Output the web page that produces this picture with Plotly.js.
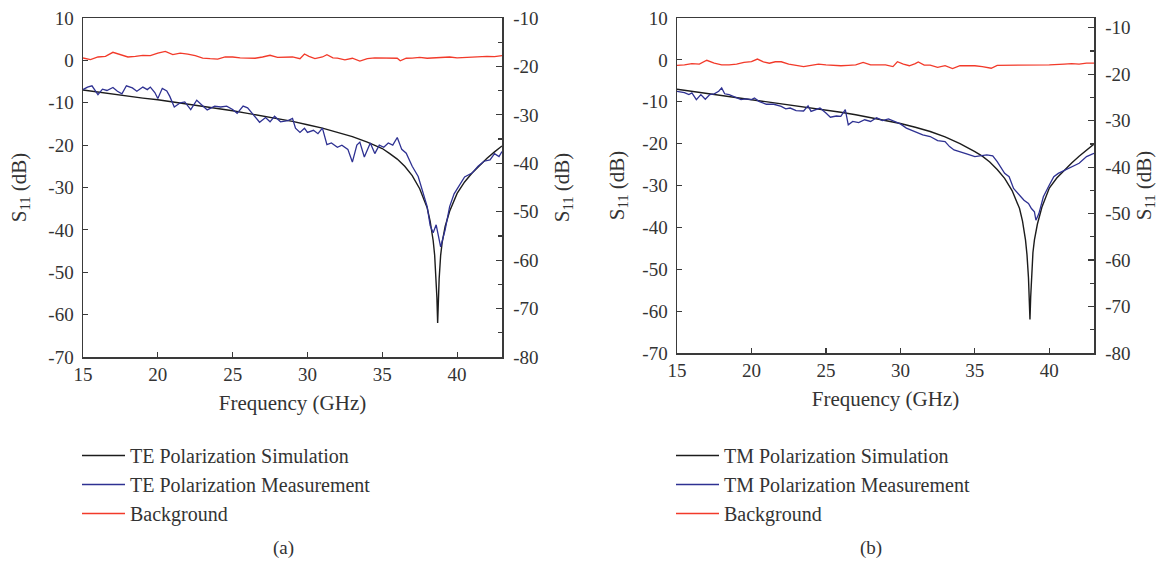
<!DOCTYPE html>
<html>
<head>
<meta charset="utf-8">
<script src="https://cdn.plot.ly/plotly-3.0.1.min.js"></script>
<style>html,body{margin:0;padding:0;background:#fff;}#chart{width:1165px;height:565px;}</style>
</head>
<body>
<div id="chart"></div>
<script>
// ---------- (a) TE ----------
const teSimFreq = [15,16,17,18,19,20,21,22,23,24,25,26,27,28,29,30,31,32,33,34,35,35.5,36,36.5,37,37.5,38,38.2,38.4,38.5,38.6,38.65,38.7,38.75,38.8,38.9,39,39.2,39.5,40,40.5,41,41.5,42,42.5,43];
const teSimS11  = [-7.0,-7.5,-8.0,-8.5,-8.9,-9.3,-9.8,-10.3,-10.8,-11.3,-11.9,-12.5,-13.1,-13.7,-14.4,-15.2,-16.0,-17.0,-18.0,-19.3,-20.8,-22.0,-23.3,-25.0,-27.2,-30.3,-34.8,-38.0,-42.5,-46.0,-51.5,-56.0,-62.0,-56.5,-51.5,-46.0,-43.0,-39.2,-35.6,-31.4,-28.7,-26.6,-24.8,-23.1,-21.6,-20.2];

const teMeasFreq = [15.0,15.3,15.6,15.8,16.0,16.3,16.6,17.0,17.3,17.6,17.9,18.3,18.6,19.0,19.3,19.5,19.8,20.0,20.3,20.6,20.8,21.1,21.5,21.8,22.2,22.6,23.0,23.3,23.8,24.2,24.6,25.0,25.3,25.7,26.0,26.4,26.8,27.2,27.5,27.8,28.2,28.7,29.0,29.2,29.5,29.8,30.0,30.4,30.7,31.0,31.3,31.6,32.0,32.3,32.7,33.0,33.3,33.5,33.8,34.2,34.5,34.8,35.1,35.4,35.7,36.0,36.3,36.6,37.0,37.4,37.7,38.0,38.2,38.4,38.6,38.9,39.2,39.5,39.8,40.2,40.5,41.0,41.4,41.8,42.2,42.5,42.8,43.0];
const teMeasS11  = [-6.9,-6.3,-6.0,-7.2,-8.1,-6.8,-7.1,-6.4,-7.3,-7.9,-6.0,-6.5,-7.3,-6.3,-6.9,-6.3,-7.6,-9.0,-6.6,-7.2,-8.5,-11.0,-10.0,-9.8,-11.6,-9.4,-10.8,-11.7,-10.8,-11.0,-10.8,-11.6,-12.5,-10.8,-11.2,-13.0,-14.6,-13.5,-14.5,-13.2,-14.5,-14.2,-13.7,-16.0,-17.0,-16.0,-17.0,-16.5,-17.3,-16.0,-19.9,-19.5,-20.5,-20.0,-21.0,-24.0,-20.0,-19.3,-22.8,-19.5,-22.0,-20.0,-20.5,-19.5,-20.0,-18.2,-21.0,-21.9,-25.0,-27.4,-31.0,-34.5,-39.0,-40.7,-38.8,-44.0,-40.0,-34.5,-31.5,-29.3,-27.5,-26.6,-25.0,-23.8,-23.5,-22.0,-22.7,-21.5];

const teBgFreq = [15.0,15.5,16.0,16.5,17.0,17.5,18.0,18.5,19.0,19.5,20.0,20.5,21.0,21.5,22.0,22.5,23.0,23.5,24.0,24.5,25.0,25.5,26.0,26.5,27.0,27.5,28.0,28.5,29.0,29.5,29.8,30.1,30.5,31.0,31.3,31.7,32.0,32.5,33.0,33.5,34.0,34.5,35.0,35.5,36.0,36.2,36.6,37.0,37.5,38.0,38.5,39.0,39.5,40.0,40.5,41.0,41.5,42.0,42.5,43.0];
const teBgS11  = [0.56,0.17,0.8,0.95,1.9,1.35,0.8,0.95,1.2,1.1,1.7,2.1,1.35,1.7,1.5,1.1,0.55,0.4,0.3,0.8,0.8,0.6,0.55,0.5,0.8,1.2,0.7,0.8,0.8,0.4,1.5,0.95,0.4,0.8,1.35,0.6,0.55,0.1,0.5,-0.15,0.4,0.6,0.55,0.6,0.5,-0.1,0.5,0.55,0.7,0.5,0.6,0.6,0.8,0.6,0.7,0.7,0.9,0.95,0.9,1.1];

// ---------- (b) TM ----------
const tmSimFreq = [15,16,17,18,19,20,21,22,23,24,25,26,27,28,29,30,31,32,33,34,35,35.5,36,36.5,37,37.5,38,38.2,38.4,38.5,38.6,38.65,38.7,38.75,38.8,38.9,39,39.2,39.5,40,40.5,41,41.5,42,42.5,43];
const tmSimS11  = [-7.0,-7.5,-8.0,-8.5,-9.0,-9.4,-9.9,-10.4,-10.9,-11.4,-11.9,-12.5,-13.1,-13.8,-14.5,-15.2,-16.1,-17.1,-18.4,-20.0,-21.9,-23.0,-24.4,-26.2,-28.3,-31.2,-35.5,-38.5,-43.0,-46.5,-52.0,-56.0,-62.0,-56.5,-51.5,-46.0,-43.0,-39.2,-35.2,-30.6,-28.2,-26.3,-24.6,-23.0,-21.5,-20.1];

const tmMeasFreq = [15.0,15.5,15.8,16.0,16.3,16.6,16.9,17.2,17.5,17.8,18.0,18.2,18.5,19.0,19.3,19.6,20.0,20.2,20.5,21.0,21.5,22.0,22.3,22.6,23.0,23.5,23.8,24.0,24.3,24.6,25.0,25.3,25.7,26.0,26.3,26.5,26.8,27.2,27.6,28.0,28.4,28.8,29.2,29.5,29.8,30.0,30.4,30.7,31.0,31.5,32.0,32.5,33.0,33.3,33.6,34.0,34.5,35.0,35.5,35.8,36.2,36.5,37.0,37.3,37.6,38.0,38.3,38.6,38.8,39.0,39.1,39.3,39.6,40.0,40.3,40.6,41.0,41.5,42.0,42.5,43.0];
const tmMeasS11  = [-7.5,-7.8,-8.3,-7.9,-9.5,-8.3,-9.4,-8.3,-8.1,-7.5,-6.7,-8.1,-8.3,-9.0,-9.5,-9.3,-9.5,-9.1,-9.9,-10.6,-10.6,-11.1,-11.7,-11.5,-12.1,-12.2,-11.0,-12.3,-11.9,-11.5,-12.7,-13.7,-13.4,-13.5,-11.9,-15.5,-14.7,-15.0,-14.3,-14.7,-13.8,-14.5,-14.1,-14.6,-15.1,-15.3,-16.3,-16.7,-17.1,-17.9,-18.3,-19.3,-19.5,-20.7,-21.5,-21.9,-22.5,-23.1,-22.9,-22.7,-22.9,-24.3,-27.1,-27.9,-30.7,-32.3,-33.5,-34.3,-35.5,-36.3,-38.3,-36.7,-32.7,-29.9,-27.9,-27.1,-26.4,-25.5,-24.7,-23.1,-22.3];

const tmBgFreq = [15.0,15.5,16.0,16.5,17.0,17.5,18.0,18.5,19.0,19.5,20.0,20.4,20.8,21.2,21.6,22.0,22.5,23.0,23.5,24.0,24.5,25.0,25.5,26.0,26.5,27.0,27.5,28.0,28.5,29.0,29.5,29.8,30.2,30.6,31.0,31.2,31.6,32.0,32.5,33.0,33.5,34.0,34.5,35.0,35.5,36.1,36.5,37.0,38.0,38.5,39.0,40.0,41.0,41.5,42.0,42.5,43.0];
const tmBgS11  = [-1.3,-1.2,-0.9,-1.0,-0.1,-0.8,-1.2,-1.2,-1.0,-0.6,-0.4,0.2,-0.45,-0.8,-0.45,-0.45,-1.0,-1.3,-1.6,-1.3,-1.0,-1.2,-1.3,-1.4,-1.3,-1.2,-0.6,-1.2,-1.2,-1.2,-1.6,-0.45,-1.0,-1.4,-0.9,-0.5,-1.25,-1.25,-1.8,-1.4,-2.1,-1.4,-1.4,-1.4,-1.6,-2.0,-1.3,-1.3,-1.3,-1.2,-1.3,-1.2,-1.0,-0.9,-1.0,-0.8,-0.8];

const xTicks = [15,20,25,30,35,40];
const leftTicks = [10,0,-10,-20,-30,-40,-50,-60,-70];
const leftTickText = ['10','0','-10','-20','-30','-40','-50','-60','-70'];
const rightTicks = [-10,-20,-30,-40,-50,-60,-70,-80];
const rightTickText = ['-10','-20','-30','-40','-50','-60','-70','-80'];
const labelsA = ['TE Polarization Simulation','TE Polarization Measurement','Background'];
const labelsB = ['TM Polarization Simulation','TM Polarization Measurement','Background'];

const W = 1165, H = 565;
const FONT = 'Liberation Serif, Times New Roman, serif';
const TXT = '#333333';
const AX = '#3a3a3a';
const cBlack = '#1c1c1c', cBlue = '#2e3192', cRed = '#f23a2a';

function px(x){ return x / W; }
function py(y){ return 1 - y / H; }

const traces = [
  {x: teSimFreq, y: teSimS11, xaxis:'x', yaxis:'y', mode:'lines', name: labelsA[0], line:{color:cBlack, width:1.4}, legend:'legend'},
  {x: teMeasFreq, y: teMeasS11, xaxis:'x', yaxis:'y', mode:'lines', name: labelsA[1], line:{color:cBlue, width:1.3}, legend:'legend'},
  {x: teBgFreq, y: teBgS11, xaxis:'x', yaxis:'y', mode:'lines', name: labelsA[2], line:{color:cRed, width:1.3}, legend:'legend'},
  {x: [], y: [], xaxis:'x', yaxis:'y2', mode:'lines', showlegend:false, hoverinfo:'skip'},
  {x: tmSimFreq, y: tmSimS11, xaxis:'x2', yaxis:'y3', mode:'lines', name: labelsB[0], line:{color:cBlack, width:1.4}, legend:'legend2'},
  {x: tmMeasFreq, y: tmMeasS11, xaxis:'x2', yaxis:'y3', mode:'lines', name: labelsB[1], line:{color:cBlue, width:1.3}, legend:'legend2'},
  {x: tmBgFreq, y: tmBgS11, xaxis:'x2', yaxis:'y3', mode:'lines', name: labelsB[2], line:{color:cRed, width:1.3}, legend:'legend2'},
  {x: [], y: [], xaxis:'x2', yaxis:'y4', mode:'lines', showlegend:false, hoverinfo:'skip'}
];

const tickFont = {family: FONT, size: 19, color: TXT};
const titleFont = {family: FONT, size: 21, color: TXT};

function xAxis(dom, anchor){
  return {domain: dom, anchor: anchor, range:[15,43], tickvals: xTicks, ticks:'inside', ticklen:5, tickwidth:1.2, tickcolor:AX,
    showline:true, linecolor:AX, linewidth:1.5, mirror:true, showgrid:false, zeroline:false, tickfont: tickFont,
    title:{text:'Frequency (GHz)', font:titleFont, standoff:11}};
}
function yLeft(dom, anchor, stand){
  return {domain: dom, anchor: anchor, range:[-70,10], tickvals: leftTicks, ticktext: leftTickText, ticks:'inside', ticklen:5, tickwidth:1.2, tickcolor:AX,
    showline:true, linecolor:AX, linewidth:1.5, showgrid:false, zeroline:false, tickfont: tickFont, ticklabelstandoff:4,
    title:{text:'S<sub>11</sub> (dB)', font:titleFont, standoff:stand}};
}
function yRight(overl, anchor, top, stand){
  return {overlaying: overl, anchor: anchor, side:'right', range:[-80, top], tickvals: rightTicks, ticktext: rightTickText, ticks:'inside', ticklen:6, tickwidth:1.2, tickcolor:AX,
    minor:{dtick:5, ticks:'inside', ticklen:4, tickcolor:AX, tickwidth:1.2, tick0:-80},
    showline:true, linecolor:AX, linewidth:1.5, showgrid:false, zeroline:false, tickfont: tickFont, ticklabelstandoff:6,
    title:{text:'S<sub>11</sub> (dB)', font:titleFont, standoff:stand}};
}

const legendCommon = {xanchor:'left', yanchor:'top', bgcolor:'rgba(0,0,0,0)', font:{family:FONT, size:20, color:TXT}, tracegroupgap:0, traceorder:'normal', itemwidth:43};

const layout = {
  width: W, height: H,
  margin: {l:0, r:0, t:0, b:0},
  paper_bgcolor:'#ffffff', plot_bgcolor:'#ffffff',
  showlegend: true,
  xaxis: xAxis([px(83), px(502)], 'y'),
  yaxis: yLeft([py(357), py(18)], 'x', 16),
  yaxis2: yRight('y', 'x', -10, 16),
  xaxis2: xAxis([px(677), px(1094)], 'y3'),
  yaxis3: yLeft([py(353), py(18)], 'x2', 12),
  yaxis4: yRight('y3', 'x2', -7.9, 6),
  legend: Object.assign({x: px(77), y: py(436)}, legendCommon),
  legend2: Object.assign({x: px(671), y: py(436)}, legendCommon),
  annotations: [
    {text:'(a)', xref:'paper', yref:'paper', x: px(283), y: py(548), xanchor:'center', yanchor:'middle', showarrow:false, font:{family:FONT, size:19, color:TXT}},
    {text:'(b)', xref:'paper', yref:'paper', x: px(871), y: py(548), xanchor:'center', yanchor:'middle', showarrow:false, font:{family:FONT, size:19, color:TXT}}
  ]
};

Plotly.newPlot('chart', traces, layout, {displayModeBar:false, staticPlot:true});
</script>
</body>
</html>
